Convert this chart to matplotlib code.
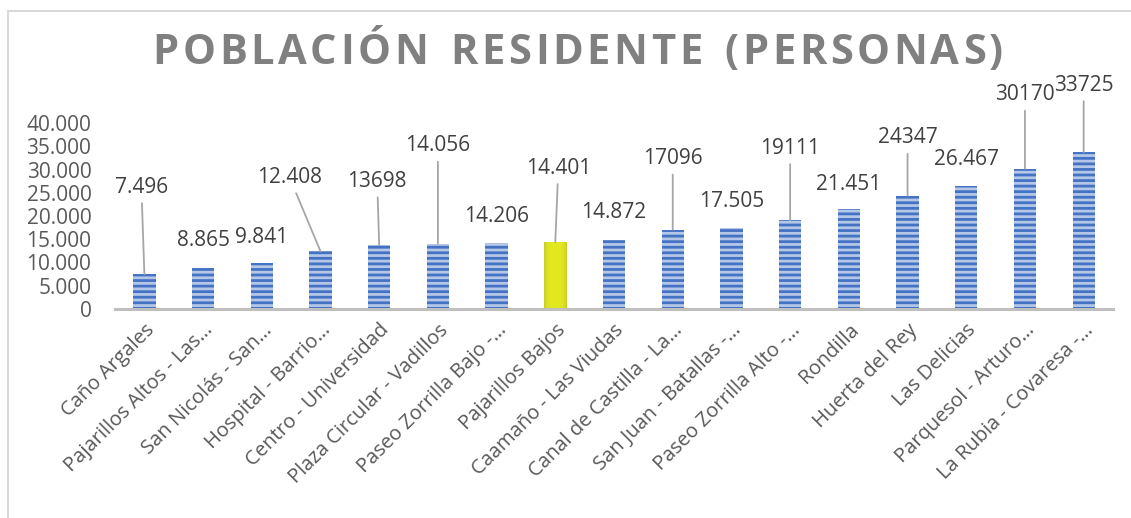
import numpy as np
import matplotlib
matplotlib.use("Agg")
import matplotlib.pyplot as plt
from matplotlib.patches import Rectangle
from matplotlib.ticker import FuncFormatter, MultipleLocator

plt.rcParams['font.family'] = ['Open Sans', 'DejaVu Sans']
plt.rcParams['hatch.linewidth'] = 2.0

barrios = ["Caño Argales", "Pajarillos Altos - Las…", "San Nicolás - San…",
           "Hospital - Barrio…", "Centro - Universidad", "Plaza Circular - Vadillos",
           "Paseo Zorrilla Bajo -…", "Pajarillos Bajos", "Caamaño - Las Viudas",
           "Canal de Castilla - La…", "San Juan - Batallas -…", "Paseo Zorrilla Alto -…",
           "Rondilla", "Huerta del Rey", "Las Delicias", "Parquesol - Arturo…",
           "La Rubia - Covaresa -…"]
poblacion = [7496, 8865, 9841, 12408, 13698, 14056, 14206, 14401, 14872,
             17096, 17505, 19111, 21451, 24347, 26467, 30170, 33725]
etiquetas = ["7.496", "8.865", "9.841", "12.408", "13698", "14.056", "14.206",
             "14.401", "14.872", "17096", "17.505", "19111", "21.451", "24347",
             "26.467", "30170", "33725"]
destacado = "Pajarillos Bajos"
titulo = "POBLACIÓN RESIDENTE (PERSONAS)"

# label offsets from bar top (pixels), big ones get a leader line
offs = [(-3, 87), (0, 27), (0, 26), (-31, 74), (-2, 64), (0, 98), (0, 26),
        (3, 74), (0, 27), (0, 71), (0, 26), (0, 72), (0, 25), (0, 58),
        (0, 26), (0, 74), (0, 67)]

fig = plt.figure(figsize=(11.31, 5.18), dpi=100)
ax = fig.add_axes([0.1017, 0.4035, 0.8824, 0.359])

x = np.arange(len(barrios))
bars = ax.bar(x, poblacion, width=0.38, color='#b4c7e7', edgecolor='#4472c4',
              hatch='---', linewidth=0, zorder=2)

for b, name in zip(bars, barrios):
    if name == destacado:
        b.set_hatch('')
        b.set_facecolor('#dde221')
        # cylinder-like shading
        g = np.linspace(-1, 1, 60)
        shade = 1 - 0.45 * g ** 4
        c0 = np.array([0.62, 0.66, 0.22])
        c1 = np.array([0.89, 0.91, 0.12])
        img = (c0[None, :] + (c1 - c0)[None, :] * shade[:, None])[None, :, :]
        im = ax.imshow(img, extent=[b.get_x(), b.get_x() + b.get_width(), 0, b.get_height()],
                       aspect='auto', zorder=3)
        im.set_clip_path(b)

for i, (v, lab) in enumerate(zip(poblacion, etiquetas)):
    dx, dy = offs[i]
    ap = None
    if dy > 40:
        ap = dict(arrowstyle='-', color='#a6a6a6', lw=1.3, shrinkA=2, shrinkB=0)
    ax.annotate(lab, xy=(i, v), xytext=(dx, dy), textcoords='offset pixels',
                ha='center', va='center', fontsize=15, color='#404040',
                arrowprops=ap, annotation_clip=False, zorder=4)

ax.set_xlim(-0.5, len(barrios) - 0.5)
ax.set_ylim(0, 40000)
ax.yaxis.set_major_locator(MultipleLocator(5000))
ax.yaxis.set_major_formatter(FuncFormatter(lambda v, p: f"{int(v):,}".replace(",", ".")))
ax.set_xticks(x)
ax.set_xticklabels(barrios, rotation=45, ha='right', rotation_mode='anchor')
ax.tick_params(axis='both', length=0, labelsize=15, labelcolor='#595959')
ax.tick_params(axis='x', pad=8, labelsize=14.5)
ax.tick_params(axis='y', pad=17)
for s in ['top', 'right', 'left']:
    ax.spines[s].set_visible(False)
ax.spines['bottom'].set_color('#bfbfbf')
ax.spines['bottom'].set_linewidth(2.2)
ax.spines['bottom'].set_zorder(5)

# title with letter spacing, char by char
renderer = fig.canvas.get_renderer()
spacing = 3.6
widths = []
for ch in titulo:
    t = fig.text(0, 0, ch if ch != ' ' else 'n', fontsize=30, fontweight='bold')
    widths.append(t.get_window_extent(renderer).width * (0.55 if ch == ' ' else 1))
    t.remove()
total = sum(widths) + spacing * (len(titulo) - 1)
xpos = 578 - total / 2
for ch, w in zip(titulo, widths):
    fig.text(xpos / 1131, 1 - 54 / 518, ch, ha='left', va='center',
             fontsize=30, fontweight='bold', color='#808080')
    xpos += w + spacing

fig.add_artist(Rectangle((8 / 1131, -0.1), 1.2, (518 - 11) / 518 + 0.1,
                         transform=fig.transFigure, fill=False,
                         edgecolor='#d9d9d9', lw=1.5))

fig.savefig("out.png", dpi=100)
